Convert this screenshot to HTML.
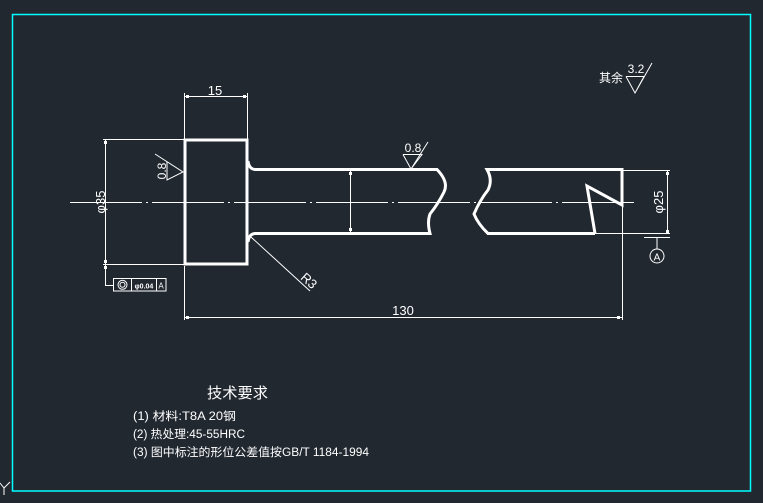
<!DOCTYPE html>
<html><head><meta charset="utf-8"><style>
html,body{margin:0;padding:0;background:#212830;}
svg{display:block;}
text{font-family:"Liberation Sans","Noto Sans CJK SC",sans-serif;fill:#fff;}
</style></head><body>
<svg width="763" height="503" viewBox="0 0 763 503" xmlns="http://www.w3.org/2000/svg">
<rect x="0" y="0" width="763" height="503" fill="#212830"/>
<!-- border -->
<rect x="12.5" y="14.5" width="738" height="476.5" fill="none" stroke="#00ffff" stroke-width="1.5"/>
<!-- Y axis mark -->
<g stroke="#fff" stroke-width="1" fill="none">
<path d="M0 483 L4 488 L10 482 M4 488 L4 495"/>
</g>

<!-- centerline -->
<g stroke="#fff" stroke-width="1" fill="none">
<line x1="70" y1="202.5" x2="637" y2="202.5" stroke-dasharray="72 4 2 4"/>
</g>

<!-- thick outlines -->
<g stroke="#fff" stroke-width="3" fill="none" stroke-linejoin="miter">
<rect x="185" y="140" width="62" height="124"/>
<path d="M248 161 Q249 169 255 169.5 L437 169.5 Q449 182 444 192 Q438 204 430 214 Q427 222 430 233.5 L255 233.5 Q249 234 248 242"/>
<path d="M595 233.5 L488 233.5 Q478 224 474 214 Q480 200 488 190 Q493 180 487 169.5 L622 169.5 L622 205 L587 186 L595 233.5"/>
</g>

<!-- thin lines -->
<g stroke="#fff" stroke-width="1" fill="none">
<line x1="184.5" y1="93" x2="184.5" y2="139"/>
<line x1="247.5" y1="93" x2="247.5" y2="139"/>
<line x1="184.5" y1="96.5" x2="247.5" y2="96.5"/>
<line x1="103" y1="139.5" x2="184" y2="139.5"/>
<line x1="103" y1="264.5" x2="184" y2="264.5"/>
<line x1="105.5" y1="139.5" x2="105.5" y2="264.5"/>
<path d="M105.5 264.5 L105.5 285.5 L113 285.5"/>
<rect x="113.5" y="278.5" width="52.5" height="12.5"/>
<line x1="131.5" y1="278.5" x2="131.5" y2="291"/>
<line x1="156.5" y1="278.5" x2="156.5" y2="291"/>
<circle cx="122.5" cy="284.8" r="4.5"/>
<circle cx="122.5" cy="284.8" r="2.5"/>
<line x1="184.5" y1="266" x2="184.5" y2="320"/>
<line x1="622.5" y1="205" x2="622.5" y2="320"/>
<line x1="184.5" y1="317.5" x2="622.5" y2="317.5"/>
<line x1="350.5" y1="171" x2="350.5" y2="232"/>
<path d="M155 154 L183 172 L167 180 L167 162"/>
<path d="M403 154.5 L422 154.5 L411 169 L403 154.5 M411 169 L428 142"/>
<path d="M626 76.5 L644 76.5 L635 93 L626 76.5 M635 93 L652 63"/>
<line x1="251" y1="237" x2="310" y2="291"/>
<line x1="622" y1="170.5" x2="670" y2="170.5"/>
<line x1="595" y1="233.5" x2="670" y2="233.5"/>
<line x1="667.5" y1="170.5" x2="667.5" y2="233.5"/>
<line x1="644" y1="237.5" x2="670" y2="237.5"/>
<line x1="657" y1="237.5" x2="657" y2="249"/>
<circle cx="657" cy="256" r="7"/>
</g>
<!-- tick marks -->
<g fill="#fff">
<rect x="186" y="95" width="3" height="3"/>
<rect x="243" y="95" width="3" height="3"/>
<rect x="104" y="141" width="3" height="3"/>
<rect x="104" y="260" width="3" height="3"/>
<rect x="104" y="266" width="3" height="3"/>
<rect x="349" y="172" width="3" height="3"/>
<rect x="349" y="228" width="3" height="3"/>
<rect x="186" y="316" width="3" height="3"/>
<rect x="617" y="316" width="3" height="3"/>
<rect x="666" y="172" width="3" height="3"/>
<rect x="666" y="230" width="3" height="3"/>
</g>

<!-- texts -->
<text x="215" y="95" font-size="13" text-anchor="middle">15</text>
<text transform="translate(105,202) rotate(-90)" font-size="13" text-anchor="middle">φ35</text>
<text transform="translate(166,171) rotate(-90)" font-size="12" text-anchor="middle">0.8</text>
<text x="413" y="152" font-size="12" text-anchor="middle">0.8</text>
<text x="636" y="73" font-size="12" text-anchor="middle">3.2</text>
<text x="599" y="82" font-size="12">其余</text>
<text transform="translate(663,202) rotate(-90)" font-size="13" text-anchor="middle">φ25</text>
<text x="657" y="260.5" font-size="10" text-anchor="middle">A</text>
<text x="144" y="288.5" font-size="7" font-weight="bold" text-anchor="middle">φ0.04</text>
<text x="161" y="288.5" font-size="8" text-anchor="middle">A</text>
<text transform="translate(306,284) rotate(42)" font-size="13" text-anchor="middle">R3</text>
<text x="403" y="315" font-size="13" text-anchor="middle">130</text>
<text x="207" y="398" font-size="15" textLength="61" lengthAdjust="spacingAndGlyphs">技术要求</text>
<text x="133" y="420" font-size="11.5" textLength="103" lengthAdjust="spacingAndGlyphs">(1) 材料:T8A 20钢</text>
<text x="133" y="438" font-size="11.5" textLength="112" lengthAdjust="spacingAndGlyphs">(2) 热处理:45-55HRC</text>
<text x="133" y="456" font-size="11.5" textLength="236" lengthAdjust="spacingAndGlyphs">(3) 图中标注的形位公差值按GB/T 1184-1994</text>
</svg>
</body></html>
